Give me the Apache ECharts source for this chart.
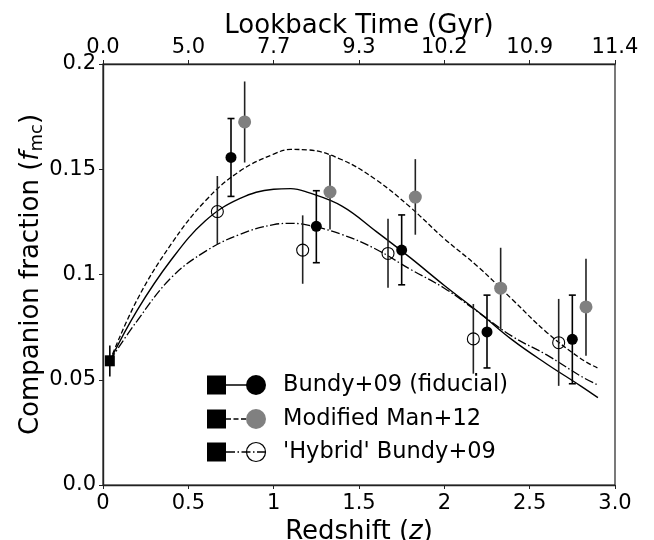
<!DOCTYPE html>
<html>
<head>
<meta charset="utf-8">
<script src="https://cdn.jsdelivr.net/npm/echarts@6/dist/echarts.min.js"></script>
<style>
html,body{margin:0;padding:0;background:#fff;}
#chart{width:654px;height:540px;}
</style>
</head>
<body>
<div id="chart"></div>
<script>
// ---- data ----
var zTickLabels = ['0', '0.5', '1', '1.5', '2', '2.5', '3.0'];
var lookbackLabels = ['0.0', '5.0', '7.7', '9.3', '10.2', '10.9', '11.4'];
var yTickLabels = ['0.0', '0.05', '0.1', '0.15', '0.2'];

var localZ = [0.04];
var localF = [0.059];
var localLo = [0.0516];
var localHi = [0.0663];

var bundyZ = [0.75, 1.25, 1.75, 2.25, 2.75];
var bundyF = [0.1556, 0.1229, 0.1116, 0.0727, 0.0692];
var bundyLo = [0.1371, 0.1056, 0.0951, 0.0556, 0.0481];
var bundyHi = [0.1741, 0.1398, 0.1283, 0.0902, 0.0902];

var manZ = [0.83, 1.33, 1.83, 2.33, 2.83];
var manF = [0.1725, 0.1392, 0.1368, 0.0935, 0.0846];
var manLo = [0.1532, 0.1214, 0.1189, 0.0738, 0.0614];
var manHi = [0.1917, 0.1568, 0.1548, 0.1127, 0.1075];

var hybZ = [0.67, 1.17, 1.67, 2.17, 2.67];
var hybF = [0.1299, 0.1116, 0.1100, 0.0694, 0.0676];
var hybLo = [0.1143, 0.0956, 0.0937, 0.0529, 0.0471];
var hybHi = [0.1468, 0.1281, 0.1265, 0.0860, 0.0884];

var curveZ = [0.04, 0.2, 0.4, 0.6, 0.8, 1.0, 1.1, 1.2, 1.4, 1.6, 1.8, 2.0, 2.2, 2.4, 2.6, 2.8, 2.9];
var fitBundy = [0.059, 0.083, 0.107, 0.1255, 0.136, 0.1405, 0.1408, 0.139, 0.1325, 0.1205, 0.108, 0.0948, 0.0822, 0.0688, 0.0575, 0.047, 0.0415];
var fitMan = [0.059, 0.088, 0.1145, 0.135, 0.149, 0.1572, 0.1594, 0.1592, 0.1545, 0.145, 0.132, 0.117, 0.1035, 0.088, 0.0725, 0.060, 0.0555];
var fitHyb = [0.059, 0.078, 0.0985, 0.111, 0.119, 0.1237, 0.1243, 0.1235, 0.119, 0.112, 0.1025, 0.0935, 0.082, 0.0705, 0.0618, 0.0517, 0.0475];

var legendNames = ['Bundy+09 (fiducial)', 'Modified Man+12', "'Hybrid' Bundy+09"];

// ---- helpers ----
function zip(a, b) { return a.map(function (v, i) { return [v, b[i]]; }); }
function zip3(a, lo, hi) { return a.map(function (v, i) { return [v, lo[i], hi[i]]; }); }

function errBars(name, z, lo, hi, cap, color) {
  return {
    type: 'custom', name: name + ' err', z: 3, silent: true,
    data: zip3(z, lo, hi),
    renderItem: function (params, api) {
      var p1 = api.coord([api.value(0), api.value(1)]);
      var p2 = api.coord([api.value(0), api.value(2)]);
      var st = { stroke: color, lineWidth: 1.6 };
      var ch = [{ type: 'line', shape: { x1: p1[0], y1: p1[1], x2: p2[0], y2: p2[1] }, style: st }];
      if (cap) {
        ch.push({ type: 'line', shape: { x1: p1[0] - cap, y1: p1[1], x2: p1[0] + cap, y2: p1[1] }, style: st });
        ch.push({ type: 'line', shape: { x1: p2[0] - cap, y1: p2[1], x2: p2[0] + cap, y2: p2[1] }, style: st });
      }
      return { type: 'group', children: ch };
    }
  };
}

var FONT = 'DejaVu Sans';
var TICK = 21, TITLE = 26;
var chart = echarts.init(document.getElementById('chart'), null, { renderer: 'canvas' });

var lx = 207, ly = [385, 419, 452];
function legendRow(i, dash, circleFill, circleStroke, circleR) {
  var y = ly[i];
  return [
    { type: 'line', shape: { x1: lx + 19, y1: y, x2: lx + 58, y2: y }, style: { stroke: '#000', lineWidth: 1.4, lineDash: dash } },
    { type: 'rect', shape: { x: lx, y: y - 9.5, width: 19, height: 19 }, style: { fill: '#000' } },
    { type: 'circle', shape: { cx: lx + 49, cy: y, r: circleR }, style: { fill: circleFill, stroke: circleStroke, lineWidth: 1.2 } },
    { type: 'text', x: lx + 76, y: y, style: { text: legendNames[i], font: '22.5px "' + FONT + '"', fill: '#000', verticalAlign: 'middle' } }
  ];
}
var legendEls = [].concat(
  legendRow(0, null, '#000', null, 10),
  legendRow(1, [5, 2.5], '#808080', null, 10),
  legendRow(2, [9, 2.5, 1.5, 2.5], 'rgba(255,255,255,0)', '#000', 9.5)
);

var option = {
  animation: false,
  backgroundColor: '#fff',
  textStyle: { fontFamily: FONT },
  grid: { left: 103, right: 39, top: 64, bottom: 55, containLabel: false, outerBoundsMode: 'none',
    show: true, borderColor: '#222', borderWidth: 1.2, backgroundColor: 'transparent' },
  xAxis: [{
    type: 'value', min: 0, max: 3, interval: 0.5, position: 'bottom',
    axisLine: { lineStyle: { color: '#222', width: 1.4 } },
    axisTick: { inside: false, length: 4, lineStyle: { color: '#222' } },
    splitLine: { show: false },
    axisLabel: { color: '#000', fontSize: TICK, fontFamily: FONT, margin: 8,
      formatter: function (v) { return zTickLabels[Math.round(v / 0.5)]; } },
    name: '{n|Redshift (}{i|z}{n|)}', nameLocation: 'middle', nameGap: 30,
    nameTextStyle: { rich: { n: { fontSize: TITLE, fontFamily: FONT, color: '#000' }, i: { fontSize: TITLE, fontFamily: FONT, fontStyle: 'italic', color: '#000' } } }
  }, {
    type: 'value', min: 0, max: 3, interval: 0.5, position: 'top',
    axisLine: { lineStyle: { color: '#222', width: 1.4 } },
    axisTick: { inside: false, length: 4, lineStyle: { color: '#222' } },
    splitLine: { show: false },
    axisLabel: { color: '#000', fontSize: TICK, fontFamily: FONT, margin: 6,
      formatter: function (v) { return lookbackLabels[Math.round(v / 0.5)]; } },
    name: 'Lookback Time (Gyr)', nameLocation: 'middle', nameGap: 25, nameMoveOverlap: false,
    nameTextStyle: { fontSize: TITLE, fontFamily: FONT, color: '#000' }
  }],
  yAxis: {
    type: 'value', min: 0, max: 0.2, interval: 0.05,
    axisLine: { show: true, lineStyle: { color: '#222', width: 1.4 } },
    axisTick: { show: true, inside: false, length: 4, lineStyle: { color: '#222' } },
    splitLine: { show: false },
    axisLabel: { color: '#000', fontSize: TICK, fontFamily: FONT, margin: 7,
      formatter: function (v) { return yTickLabels[Math.round(v / 0.05)]; } },
    name: '{n|Companion fraction (}{i|f}{s|mc}{n|)}', nameLocation: 'middle', nameGap: 57, nameMoveOverlap: false,
    nameTextStyle: { rich: {
      n: { fontSize: TITLE, fontFamily: FONT, color: '#000' },
      i: { fontSize: TITLE, fontFamily: FONT, fontStyle: 'italic', color: '#000' },
      s: { fontSize: 18, fontFamily: FONT, color: '#000', padding: [12, 0, 0, 0] }
    } }
  },
  series: [
    { type: 'line', name: 'fit bundy', data: zip(curveZ, fitBundy), smooth: 0.4, symbol: 'none', z: 2,
      lineStyle: { color: '#000', width: 1.4 } },
    { type: 'line', name: 'fit man', data: zip(curveZ, fitMan), smooth: 0.4, symbol: 'none', z: 2,
      lineStyle: { color: '#000', width: 1.3, type: [5, 2.5] } },
    { type: 'line', name: 'fit hyb', data: zip(curveZ, fitHyb), smooth: 0.4, symbol: 'none', z: 2,
      lineStyle: { color: '#000', width: 1.3, type: [9, 2.5, 1.5, 2.5] } },
    errBars('local', localZ, localLo, localHi, 0, '#000'),
    errBars('bundy', bundyZ, bundyLo, bundyHi, 3.5, '#000'),
    errBars('man', manZ, manLo, manHi, 0, '#222'),
    errBars('hyb', hybZ, hybLo, hybHi, 0, '#222'),
    { type: 'scatter', name: 'local', data: zip(localZ, localF), symbol: 'rect', symbolSize: [10, 11], z: 5,
      itemStyle: { color: '#000', opacity: 1 } },
    { type: 'scatter', name: 'bundy', data: zip(bundyZ, bundyF), symbol: 'circle', symbolSize: 11, z: 5,
      itemStyle: { color: '#000', opacity: 1 } },
    { type: 'scatter', name: 'man', data: zip(manZ, manF), symbol: 'circle', symbolSize: 13, z: 5,
      itemStyle: { color: '#808080', opacity: 1 } },
    { type: 'scatter', name: 'hyb', data: zip(hybZ, hybF), symbol: 'circle', symbolSize: 12, z: 5,
      itemStyle: { color: 'rgba(255,255,255,0)', borderColor: '#000', borderWidth: 1.1, opacity: 1 } }
  ],
  graphic: { elements: legendEls }
};
chart.setOption(option);
</script>
</body>
</html>
